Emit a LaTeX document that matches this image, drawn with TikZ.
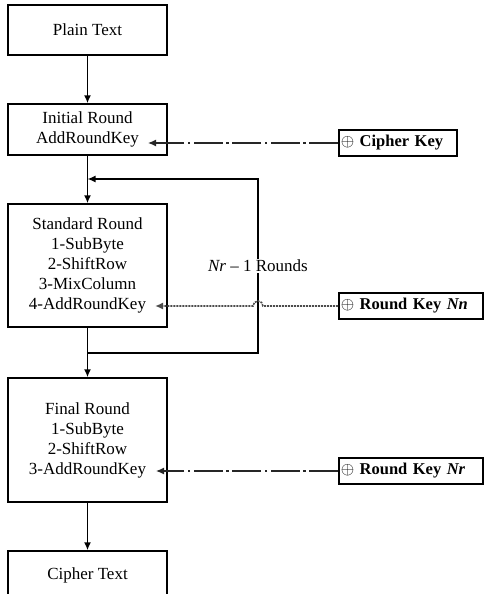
\documentclass[tikz,border=0pt]{standalone}
\usepackage{fontspec}
\setmainfont{Liberation Serif}
\usetikzlibrary{positioning}
\usetikzlibrary{arrows.meta}

\begin{document}
\begin{tikzpicture}[x=1pt, y=-1pt,
  stage/.style={draw, line width=1.5pt, minimum width=159pt, inner sep=0pt, align=center, font=\fontsize{17}{20}\selectfont},
  keybox/.style={draw, line width=1.5pt, anchor=west, minimum height=26pt, inner sep=2pt, align=left, font=\fontsize{16.5}{20}\selectfont\bfseries},
  flow/.style={line width=1.5pt, -{Latex[length=8pt,width=7pt]}},
  dashdot/.style={line width=1.3pt, black!85, dash pattern=on 29pt off 3.5pt on 2.5pt off 3.5pt, -{Latex[length=8pt,width=7pt]}},
  dotline/.style={line width=1.6pt, black!70, dash pattern=on 2pt off 1pt, -{Latex[length=8pt,width=7pt]}}]

\clip (0,0) rectangle (492,594);

% main column
\node[stage, minimum height=50pt] (plain) at (87.5,30) {Plain Text};
\node[stage, minimum height=51pt] (init) at (87.5,129.5) {Initial Round\\AddRoundKey};
\node[stage, minimum height=123pt] (std) at (87.5,265.5) {Standard Round\\1-SubByte\\2-ShiftRow\\3-MixColumn\\4-AddRoundKey};
\node[stage, minimum height=124pt] (final) at (87.5,440) {Final Round\\1-SubByte\\2-ShiftRow\\3-AddRoundKey};
\node[stage, minimum height=48pt] (cipher) at (87.5,575) {Cipher Text};

% keys
\node[keybox, text width=114pt] (ckey) at (338,143) {$\oplus$ Cipher Key};
\node[keybox, text width=140pt] (nnkey) at (338,306) {$\oplus$ Round Key \textit{Nn}};
\node[keybox, text width=140pt] (nrkey) at (338,471) {$\oplus$ Round Key \textit{Nr}};

\coordinate (initin) at (148,143);
\coordinate (stdin) at (155,306);
\coordinate (finalin) at (156,471);

\coordinate (loopbot) at (258,353);
\coordinate (looptop) at (258,179);
\coordinate (loopin) at (87.5,179);
\coordinate (jumpr) at (263,306);

\draw[flow] (plain) -- (init);
\draw[flow] (init) -- (std);
\draw[flow] (std) -- (final);
\draw[flow] (final) -- (cipher);

% loop back
\draw[flow] (std.south) |- (loopbot) -- (looptop) -- (loopin);
\node[fill=white, inner sep=1pt, font=\fontsize{17}{20}\selectfont] (rounds) at (258,266) {\textit{Nr} – 1 Rounds};

\draw[dashdot] (ckey.west) -- (initin);
\draw[dotline] (nnkey.west) -- (jumpr) arc[start angle=0, end angle=180, radius=5pt] -- (stdin);
\draw[dashdot] (nrkey.west) -- (finalin);

\end{tikzpicture}
\end{document}
